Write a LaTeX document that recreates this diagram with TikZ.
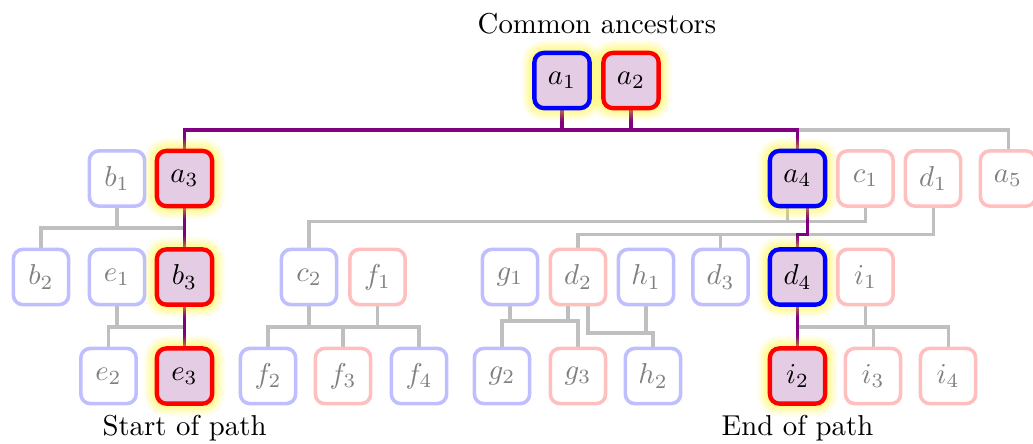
\documentclass[tikz,border=0pt]{standalone}
\usetikzlibrary{calc}
\pgfdeclarelayer{bg}
\pgfsetlayers{bg,main}
\begin{document}
\begin{tikzpicture}[x=0.3475pt,y=-0.3475pt,
  box/.style={rounded corners=3.3pt,minimum width=19.2pt,minimum height=19.2pt,inner sep=0pt},
  fb/.style={box,draw=blue!25,line width=1.25pt,text=gray},
  fr/.style={box,draw=red!25,line width=1.25pt,text=gray},
  glow/.style={
    preaction={draw=yellow,draw opacity=0.06,line width=9pt},
    preaction={draw=yellow,draw opacity=0.08,line width=7.5pt},
    preaction={draw=yellow,draw opacity=0.1,line width=6pt},
    preaction={draw=yellow,draw opacity=0.12,line width=4.5pt},
    preaction={draw=yellow,draw opacity=0.14,line width=3pt}},
  hb/.style={box,glow,fill=violet!20,draw=blue,line width=1.5pt},
  hr/.style={box,glow,fill=violet!20,draw=red,line width=1.5pt},
  gline/.style={draw=black!25,line width=1.05pt},
  pline/.style={draw=violet,line width=1.1pt}]
\useasboundingbox (0,0) rectangle (1033,443);
% coordinates of junction levels
\coordinate (L0) at (0,130);
\coordinate (L1) at (0,228);
\coordinate (L2) at (0,221.5);
\coordinate (L3) at (0,234.5);
\coordinate (L4) at (0,327);
\coordinate (L5) at (0,321);
\coordinate (L6) at (0,333);
% row 0
\node[hb] (a1) at (562,80.5) {$a_1$};
\node[hr] (a2) at (631,80.5) {$a_2$};
% row 1
\node[fb] (b1) at (117,178.5) {$b_1$};
\node[hr] (a3) at (184.5,178.5) {$a_3$};
\node[hb] (a4) at (797.5,178.5) {$a_4$};
\node[fr] (c1) at (865.5,178.5) {$c_1$};
\node[fr] (d1) at (933,178.5) {$d_1$};
\node[fr] (a5) at (1008,178.5) {$a_5$};
% row 2
\node[fb] (b2) at (41,277) {$b_2$};
\node[fb] (e1) at (117,277) {$e_1$};
\node[hr] (b3) at (184.5,277) {$b_3$};
\node[fb] (c2) at (309,277) {$c_2$};
\node[fr] (f1) at (377.5,277) {$f_1$};
\node[fb] (g1) at (510,277) {$g_1$};
\node[fr] (d2) at (578,277) {$d_2$};
\node[fb] (h1) at (646,277) {$h_1$};
\node[fb] (d3) at (720.5,277) {$d_3$};
\node[hb] (d4) at (797.5,277) {$d_4$};
\node[fr] (i1) at (865.5,277) {$i_1$};
% row 3
\node[fb] (e2) at (108.5,376) {$e_2$};
\node[hr] (e3) at (184.5,376) {$e_3$};
\node[fb] (f2) at (268,376) {$f_2$};
\node[fr] (f3) at (343,376) {$f_3$};
\node[fb] (f4) at (419,376) {$f_4$};
\node[fb] (g2) at (502,376) {$g_2$};
\node[fr] (g3) at (578,376) {$g_3$};
\node[fb] (h2) at (653,376) {$h_2$};
\node[hr] (i2) at (797.5,376) {$i_2$};
\node[fr] (i3) at (873,376) {$i_3$};
\node[fr] (i4) at (948,376) {$i_4$};
% labels
\node (ca) at (597,24) {Common ancestors};
\node (sp) at (184.5,428) {Start of path};
\node (ep) at (797.5,428) {End of path};
\begin{pgfonlayer}{bg}
% gray connectors
\draw[gline] (a4.north |- L0) -| (a5.north);
\draw[gline] (b1.south) -- (b1.south |- L1);
\draw[gline] (b2.north) |- (b3.north |- L1);
\draw[gline] (c2.north) |- (c1.south |- L2) -- (c1.south);
\draw[gline] ($(a4.south)+(-10,0)$) -- ($(a4.south |- L2)+(-10,0)$);
\draw[gline] (d2.north) |- (d1.south |- L3) -- (d1.south);
\draw[gline] (d3.north) -- (d3.north |- L3);
\draw[gline] (e1.south) -- (e1.south |- L4);
\draw[gline] (e2.north) |- (e3.north |- L4);
\draw[gline] (c2.south) -- (c2.south |- L4);
\draw[gline] (f1.south) -- (f1.south |- L4);
\draw[gline] (f2.north) |- (f4.north |- L4) -- (f4.north);
\draw[gline] (f3.north) -- (f3.north |- L4);
\draw[gline] (g1.south) -- (g1.south |- L5);
\draw[gline] ($(d2.south)+(-10,0)$) -- ($(d2.south |- L5)+(-10,0)$);
\draw[gline] (g2.north) |- (g3.north |- L5) -- (g3.north);
\draw[gline] ($(d2.south)+(10,0)$) |- (h2.north |- L6) -- (h2.north);
\draw[gline] (h1.south) -- (h1.south |- L6);
\draw[gline] (i1.south) -- (i1.south |- L4);
\draw[gline] (i2.north |- L4) -| (i4.north);
\draw[gline] (i3.north) -- (i3.north |- L4);
% purple path
\draw[pline] (a1.south) -- (a1.south |- L0);
\draw[pline] (a2.south) -- (a2.south |- L0);
\draw[pline] (a3.north) |- (a4.north |- L0) -- (a4.north);
\draw[pline] (a3.south) -- (b3.north);
\draw[pline] (b3.south) -- (e3.north);
\draw[pline] ($(a4.south)+(10,0)$) |- (d4.north |- L3) -- (d4.north);
\draw[pline] (d4.south) -- (i2.north);
\end{pgfonlayer}
\end{tikzpicture}
\end{document}
